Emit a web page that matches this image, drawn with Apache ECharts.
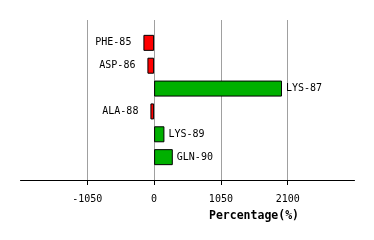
<!DOCTYPE html>
<html><head><meta charset="utf-8">
<script src="https://cdn.jsdelivr.net/npm/echarts@6/dist/echarts.min.js"></script>
<style>html,body{margin:0;padding:0;background:#fff}#c{width:374px;height:240px}</style>
</head><body><div id="c"></div>
<script>
const categories = ['PHE-85','ASP-86','LYS-87','ALA-88','LYS-89','GLN-90'];
const values = [-168, -105, 2010, -58, 162, 294];
const tickValues = [-1050, 0, 1050, 2100];
const axisTitle = 'Percentage(%)';

const cats = [''].concat(categories, ['']);
const data = values.map((v, i) => ({
  value: v,
  itemStyle: { color: v < 0 ? '#ff0000' : '#00b000' },
  label: {
    show: true,
    position: v < 0 ? 'left' : 'right',
    distance: v < 0 ? 12 : 4,
    formatter: categories[i]
  }
}));
const full = [null].concat(data, [null]);

const L = 20.5, W = 334;
const chart = echarts.init(document.getElementById('c'), null, { renderer: 'canvas' });
chart.setOption({
  animation: false,
  grid: [
    { left: L, width: W, top: 20, height: 160, outerBoundsMode: 'none', containLabel: false },
    { left: L + W / 5, width: W * 3 / 5, top: 180, height: 5, outerBoundsMode: 'none', containLabel: false }
  ],
  xAxis: [{
    type: 'value', min: -2100, max: 3150, interval: 1050,
    axisLine: { show: true, onZero: false, lineStyle: { color: '#000', width: 1 } },
    axisTick: { show: true, customValues: tickValues, length: 5, lineStyle: { color: '#000', width: 1 } },
    axisLabel: { customValues: tickValues, color: '#000', fontFamily: 'DejaVu Sans Mono', fontSize: 10, margin: 14,
      formatter: v => String(v) },
    splitLine: { show: true, showMinLine: true, showMaxLine: true, lineStyle: { color: '#a0a0a0', width: 1 } },
    name: axisTitle, nameLocation: 'middle', nameGap: 30,
    nameTextStyle: { color: '#000', fontFamily: 'DejaVu Sans Mono', fontWeight: 'bold', fontSize: 11.5, padding: [0, 0, 0, 133] }
  }, {
    gridIndex: 1, type: 'value', min: tickValues[0], max: tickValues[tickValues.length - 1], interval: 1050,
    axisLine: { show: false, onZero: false },
    axisTick: { show: false },
    axisLabel: { show: false },
    splitLine: { show: true, showMinLine: true, showMaxLine: true, lineStyle: { color: '#000', width: 1 } }
  }],
  yAxis: [{
    type: 'category', data: cats, inverse: true, boundaryGap: false,
    axisLine: { show: false }, axisTick: { show: false }, axisLabel: { show: false }, splitLine: { show: false }
  }, {
    gridIndex: 1, type: 'value', min: 0, max: 1, show: false
  }],
  series: [{
    type: 'bar', data: full, barWidth: 16,
    itemStyle: { borderColor: '#000', borderWidth: 1, borderRadius: 0 },
    label: { color: '#000', fontFamily: 'DejaVu Sans Mono', fontSize: 10 }
  }, {
    type: 'scatter', xAxisIndex: 1, yAxisIndex: 1, data: [], silent: true
  }]
});
</script></body></html>
